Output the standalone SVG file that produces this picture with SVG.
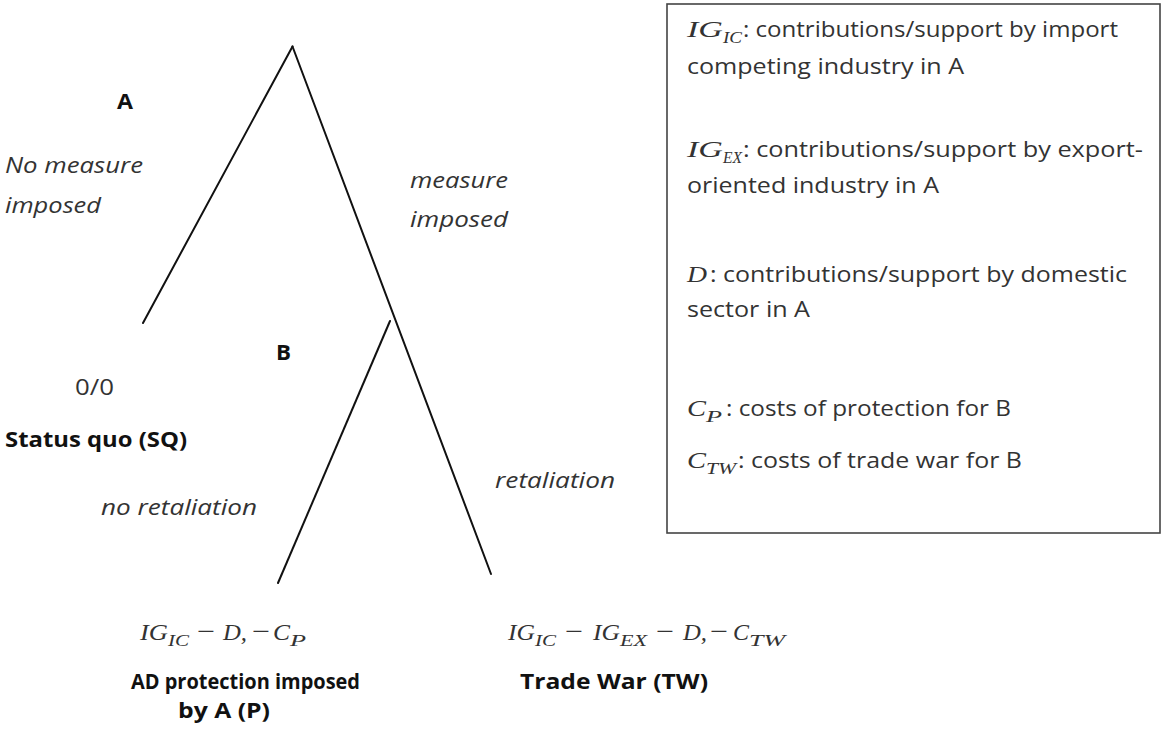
<svg xmlns="http://www.w3.org/2000/svg" width="1163" height="731" viewBox="0 0 1163 731">
<style>
.s{font-family:"Open Sans","Liberation Sans",sans-serif;font-size:21px;fill:#333}
.b{font-weight:bold;fill:#111}
.i{font-style:italic}
.m{font-family:"Liberation Serif","DejaVu Serif",serif;font-style:italic;font-size:23px;fill:#333}
.mu{font-family:"Liberation Serif","DejaVu Serif",serif;font-size:23px;fill:#333}
.sub{font-size:16px}
.edge{stroke:#111;stroke-width:2;fill:none;stroke-linecap:round}
</style>
<rect width="1163" height="731" fill="#fff"/>
<g id="connectors">
  <line class="edge" x1="292.5" y1="46.5" x2="143" y2="323"/>
  <line class="edge" x1="292.5" y1="46.5" x2="491" y2="574"/>
  <line class="edge" x1="390" y1="321" x2="278" y2="583"/>
  <text class="s i" x="5" y="173" textLength="138" lengthAdjust="spacingAndGlyphs">No measure</text>
  <text class="s i" x="5" y="213" textLength="96" lengthAdjust="spacingAndGlyphs">imposed</text>
  <text class="s i" x="410" y="188" textLength="98" lengthAdjust="spacingAndGlyphs">measure</text>
  <text class="s i" x="410" y="227" textLength="98" lengthAdjust="spacingAndGlyphs">imposed</text>
  <text class="s i" x="101" y="515" textLength="156" lengthAdjust="spacingAndGlyphs">no retaliation</text>
  <text class="s i" x="495" y="488" textLength="120" lengthAdjust="spacingAndGlyphs">retaliation</text>
</g>
<g id="nodeA">
  <text class="s b" x="117" y="109" textLength="16" lengthAdjust="spacingAndGlyphs">A</text>
</g>
<g id="nodeB">
  <text class="s b" x="276" y="360" textLength="15" lengthAdjust="spacingAndGlyphs">B</text>
</g>
<g id="leafSQ">
  <text class="s" x="75" y="395" textLength="39" lengthAdjust="spacingAndGlyphs">0/0</text>
  <text class="s b" x="5" y="447" textLength="182" lengthAdjust="spacingAndGlyphs">Status quo (SQ)</text>
</g>
<g id="leafP">
  <text class="m" x="140" y="640" textLength="28" lengthAdjust="spacingAndGlyphs">IG</text>
  <text class="m sub" x="168" y="646" textLength="21" lengthAdjust="spacingAndGlyphs">IC</text>
  <text class="mu" x="197" y="639" textLength="18" lengthAdjust="spacingAndGlyphs">−</text>
  <text class="m" x="223" y="640" textLength="24" lengthAdjust="spacingAndGlyphs">D,</text>
  <text class="mu" x="252" y="639" textLength="18" lengthAdjust="spacingAndGlyphs">−</text>
  <text class="m" x="273" y="640" textLength="17" lengthAdjust="spacingAndGlyphs">C</text>
  <text class="m sub" x="290" y="646" textLength="16" lengthAdjust="spacingAndGlyphs">P</text>
  <text class="s b" x="131" y="689" textLength="229" lengthAdjust="spacingAndGlyphs">AD protection imposed</text>
  <text class="s b" x="178" y="718" textLength="92" lengthAdjust="spacingAndGlyphs">by A (P)</text>
</g>
<g id="leafTW">
  <text class="m" x="508" y="640" textLength="27" lengthAdjust="spacingAndGlyphs">IG</text>
  <text class="m sub" x="535" y="646" textLength="21" lengthAdjust="spacingAndGlyphs">IC</text>
  <text class="mu" x="565" y="639" textLength="18" lengthAdjust="spacingAndGlyphs">−</text>
  <text class="m" x="593" y="640" textLength="27" lengthAdjust="spacingAndGlyphs">IG</text>
  <text class="m sub" x="620" y="646" textLength="27" lengthAdjust="spacingAndGlyphs">EX</text>
  <text class="mu" x="656" y="639" textLength="18" lengthAdjust="spacingAndGlyphs">−</text>
  <text class="m" x="683" y="640" textLength="24" lengthAdjust="spacingAndGlyphs">D,</text>
  <text class="mu" x="710" y="639" textLength="18" lengthAdjust="spacingAndGlyphs">−</text>
  <text class="m" x="733" y="640" textLength="16" lengthAdjust="spacingAndGlyphs">C</text>
  <text class="m sub" x="749" y="646" textLength="36" lengthAdjust="spacingAndGlyphs">TW</text>
  <text class="s b" x="520" y="689" textLength="188" lengthAdjust="spacingAndGlyphs">Trade War (TW)</text>
</g>
<g id="legend">
  <rect x="667" y="4" width="493" height="529" fill="none" stroke="#444" stroke-width="1.6"/>
  <text class="m" x="687" y="37" textLength="36" lengthAdjust="spacingAndGlyphs">IG</text>
  <text class="m sub" x="723" y="43" textLength="19" lengthAdjust="spacingAndGlyphs">IC</text>
  <text class="s" x="743" y="37" textLength="375" lengthAdjust="spacingAndGlyphs">: contributions/support by import</text>
  <text class="s" x="687" y="74" textLength="277" lengthAdjust="spacingAndGlyphs">competing industry in A</text>
  <text class="m" x="687" y="157" textLength="36" lengthAdjust="spacingAndGlyphs">IG</text>
  <text class="m sub" x="723" y="163" textLength="19" lengthAdjust="spacingAndGlyphs">EX</text>
  <text class="s" x="743" y="157" textLength="400" lengthAdjust="spacingAndGlyphs">: contributions/support by export-</text>
  <text class="s" x="687" y="193" textLength="252" lengthAdjust="spacingAndGlyphs">oriented industry in A</text>
  <text class="m" x="687" y="282" textLength="20" lengthAdjust="spacingAndGlyphs">D</text>
  <text class="s" x="710" y="282" textLength="417" lengthAdjust="spacingAndGlyphs">: contributions/support by domestic</text>
  <text class="s" x="687" y="317" textLength="123" lengthAdjust="spacingAndGlyphs">sector in A</text>
  <text class="m" x="687" y="416" textLength="19" lengthAdjust="spacingAndGlyphs">C</text>
  <text class="m sub" x="706" y="422" textLength="16" lengthAdjust="spacingAndGlyphs">P</text>
  <text class="s" x="726" y="416" textLength="285" lengthAdjust="spacingAndGlyphs">: costs of protection for B</text>
  <text class="m" x="687" y="468" textLength="19" lengthAdjust="spacingAndGlyphs">C</text>
  <text class="m sub" x="706" y="474" textLength="30" lengthAdjust="spacingAndGlyphs">TW</text>
  <text class="s" x="738" y="468" textLength="284" lengthAdjust="spacingAndGlyphs">: costs of trade war for B</text>
</g>
</svg>
